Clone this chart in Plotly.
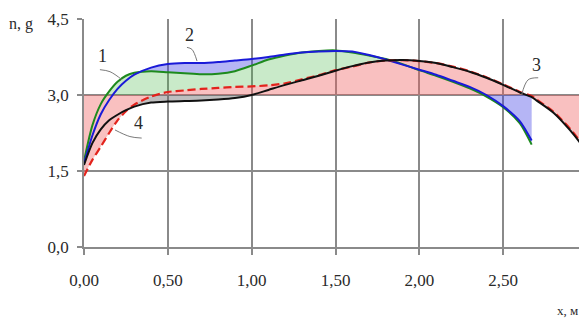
import numpy as np
import plotly.graph_objects as go

# ---------------- data ----------------
X = [0, 0.05, 0.1, 0.15, 0.2, 0.25, 0.3, 0.4, 0.5, 0.6, 0.7, 0.8, 0.9, 1.0,
     1.1, 1.2, 1.3, 1.4, 1.5, 1.6, 1.7, 1.8, 1.9, 2.0, 2.1, 2.2, 2.3, 2.4,
     2.5, 2.6, 2.67]
X_TAIL = [2.7, 2.8, 2.9, 3.0]

CURVE_1 = [1.70, 2.40, 2.82, 3.07, 3.26, 3.38, 3.44, 3.47, 3.45, 3.43, 3.41,
           3.42, 3.47, 3.58, 3.70, 3.78, 3.84, 3.87, 3.88, 3.84, 3.78, 3.71,
           3.61, 3.49, 3.38, 3.26, 3.13, 2.97, 2.76, 2.44, 2.02]
CURVE_2 = [1.65, 2.20, 2.62, 2.90, 3.12, 3.28, 3.40, 3.54, 3.61, 3.63, 3.63,
           3.65, 3.68, 3.71, 3.75, 3.80, 3.84, 3.86, 3.87, 3.86, 3.79, 3.70,
           3.60, 3.50, 3.40, 3.28, 3.16, 3.00, 2.78, 2.48, 2.10]
CURVE_3 = [1.40, 1.72, 1.98, 2.25, 2.50, 2.68, 2.81, 2.97, 3.06, 3.09, 3.12,
           3.14, 3.16, 3.17, 3.19, 3.23, 3.31, 3.39, 3.49, 3.56, 3.64, 3.68,
           3.69, 3.67, 3.63, 3.56, 3.47, 3.35, 3.21, 3.06, 2.98,
           2.91, 2.67, 2.33, 1.91]
CURVE_4 = [1.62, 2.05, 2.32, 2.50, 2.61, 2.70, 2.77, 2.85, 2.87, 2.88, 2.89,
           2.91, 2.94, 3.00, 3.10, 3.20, 3.29, 3.38, 3.48, 3.57, 3.64, 3.68,
           3.69, 3.67, 3.63, 3.55, 3.46, 3.34, 3.20, 3.05, 2.96,
           2.89, 2.65, 2.30, 1.88]
REF_LEVEL = 3.0

X_TICKS = [0, 0.5, 1.0, 1.5, 2.0, 2.5, 3.0]
Y_TICKS = [0, 1.5, 3.0, 4.5]

CURVE_LABELS = ["1", "2", "3", "4"]
LABEL_X = [0.113, 0.632, 2.70, 0.324]
LABEL_Y = [3.77, 4.19, 3.60, 2.44]
LEADER_X = [[0.095, 0.155, 0.227], [0.614, 0.644, 0.674],
            [2.709, 2.649, 2.61], [0.344, 0.274, 0.185]]
LEADER_Y = [[3.50, 3.46, 3.30], [3.94, 3.90, 3.67],
            [3.34, 3.30, 3.00], [2.15, 2.18, 2.31]]

# ---------------- derived arrays ----------------
x_main = np.array(X)
x_full = np.array(X + X_TAIL)
c1 = np.array(CURVE_1)
c2 = np.array(CURVE_2)
c3 = np.array(CURVE_3)
c4 = np.array(CURVE_4)
n = len(X)
ref_full = np.full(len(x_full), REF_LEVEL)

PINK = "rgba(240,90,90,0.38)"
GREEN = "rgba(60,180,60,0.28)"
BLUE = "rgba(60,60,230,0.38)"
GREY = "rgba(100,100,100,0.42)"
SMOOTH = 0.7
TEXT = "#2a2a2a"
SERIF = "Liberation Serif"

fig = go.Figure()


def band(x, lo, hi, color):
    fig.add_trace(go.Scatter(x=x, y=lo, mode="lines",
                             line=dict(width=0, shape="spline", smoothing=SMOOTH),
                             hoverinfo="skip", showlegend=False))
    fig.add_trace(go.Scatter(x=x, y=hi, mode="lines",
                             line=dict(width=0, shape="spline", smoothing=SMOOTH),
                             fill="tonexty", fillcolor=color,
                             hoverinfo="skip", showlegend=False))


# pink: between reference level and curve 3
band(x_full, ref_full, c3, PINK)
# grey: between curve 4 and min(curve 3, ref) where curve 4 is below
up_g = np.minimum(c3, REF_LEVEL)
lo_g = np.minimum(c4, up_g)
band(x_full, lo_g, up_g, GREY)
# green: between max(curve 3, ref) and curve 1 where curve 1 is above
base_g = np.maximum(c3[:n], REF_LEVEL)
band(x_main, np.minimum(base_g, c1), c1, GREEN)
# blue: between curve 1 and curve 2 where curve 2 is above
band(x_main, np.minimum(c1, c2), c2, BLUE)
# blue tail: below reference level at the end of curve 2
mask = x_main >= 2.4
band(x_main[mask], np.minimum(c2[mask], REF_LEVEL),
     np.full(mask.sum(), REF_LEVEL), BLUE)

# curves
fig.add_trace(go.Scatter(x=x_main, y=c1, mode="lines", showlegend=False,
                         line=dict(color="#1d8a1d", width=2, shape="spline", smoothing=SMOOTH)))
fig.add_trace(go.Scatter(x=x_main, y=c2, mode="lines", showlegend=False,
                         line=dict(color="#1a1ad8", width=2, shape="spline", smoothing=SMOOTH)))
fig.add_trace(go.Scatter(x=x_full, y=c3, mode="lines", showlegend=False,
                         line=dict(color="#e3231c", width=2.2, dash="8px,4px",
                                   shape="spline", smoothing=SMOOTH)))
fig.add_trace(go.Scatter(x=x_full, y=c4, mode="lines", showlegend=False,
                         line=dict(color="#111111", width=2, shape="spline", smoothing=SMOOTH)))

# leader lines
for lx, ly in zip(LEADER_X, LEADER_Y):
    fig.add_trace(go.Scatter(x=lx, y=ly, mode="lines", showlegend=False,
                             hoverinfo="skip",
                             line=dict(color="#7a7a7a", width=1, shape="spline")))

# curve number labels
for t, lx, ly in zip(CURVE_LABELS, LABEL_X, LABEL_Y):
    fig.add_annotation(x=lx, y=ly, text=t, showarrow=False,
                       font=dict(family=SERIF, size=18, color=TEXT))

fig.add_annotation(xref="paper", yref="paper", x=-0.097, y=0.978, text="n, g",
                   xanchor="right", yanchor="middle", showarrow=False,
                   font=dict(family=SERIF, size=16, color=TEXT))
fig.add_annotation(xref="paper", yref="paper", x=0.962, y=-0.28, text="x, м",
                   xanchor="center", yanchor="middle", showarrow=False,
                   font=dict(family=SERIF, size=13, color=TEXT))

GRID = "#8a8a8a"
# the page body has an 8px margin, so the figure is sized to end at the window edge
fig.update_layout(
    width=579, height=312,
    margin=dict(l=76, r=0, t=11, b=73, autoexpand=False),
    plot_bgcolor="white", paper_bgcolor="white",
    separators=",.",
    font=dict(family=SERIF, size=17, color=TEXT),
    showlegend=False,
    xaxis=dict(range=[0, 3], tickvals=X_TICKS, tickformat=".2f",
               showgrid=True, gridcolor=GRID, gridwidth=1.5,
               showline=True, linecolor=GRID, linewidth=1.5,
               ticks="outside", ticklen=6, tickcolor=GRID, tickwidth=1.5,
               zeroline=False, ticklabelstandoff=11, fixedrange=True,
               automargin=False),
    yaxis=dict(range=[0, 4.5], tickvals=Y_TICKS, tickformat=".1f",
               showgrid=True, gridcolor=GRID, gridwidth=1.5,
               showline=True, linecolor=GRID, linewidth=1.5,
               ticks="outside", ticklen=5, tickcolor=GRID, tickwidth=1.5,
               zeroline=False, ticklabelstandoff=5, fixedrange=True,
               automargin=False),
)

fig.write_html("out.html", config={"displayModeBar": False})
